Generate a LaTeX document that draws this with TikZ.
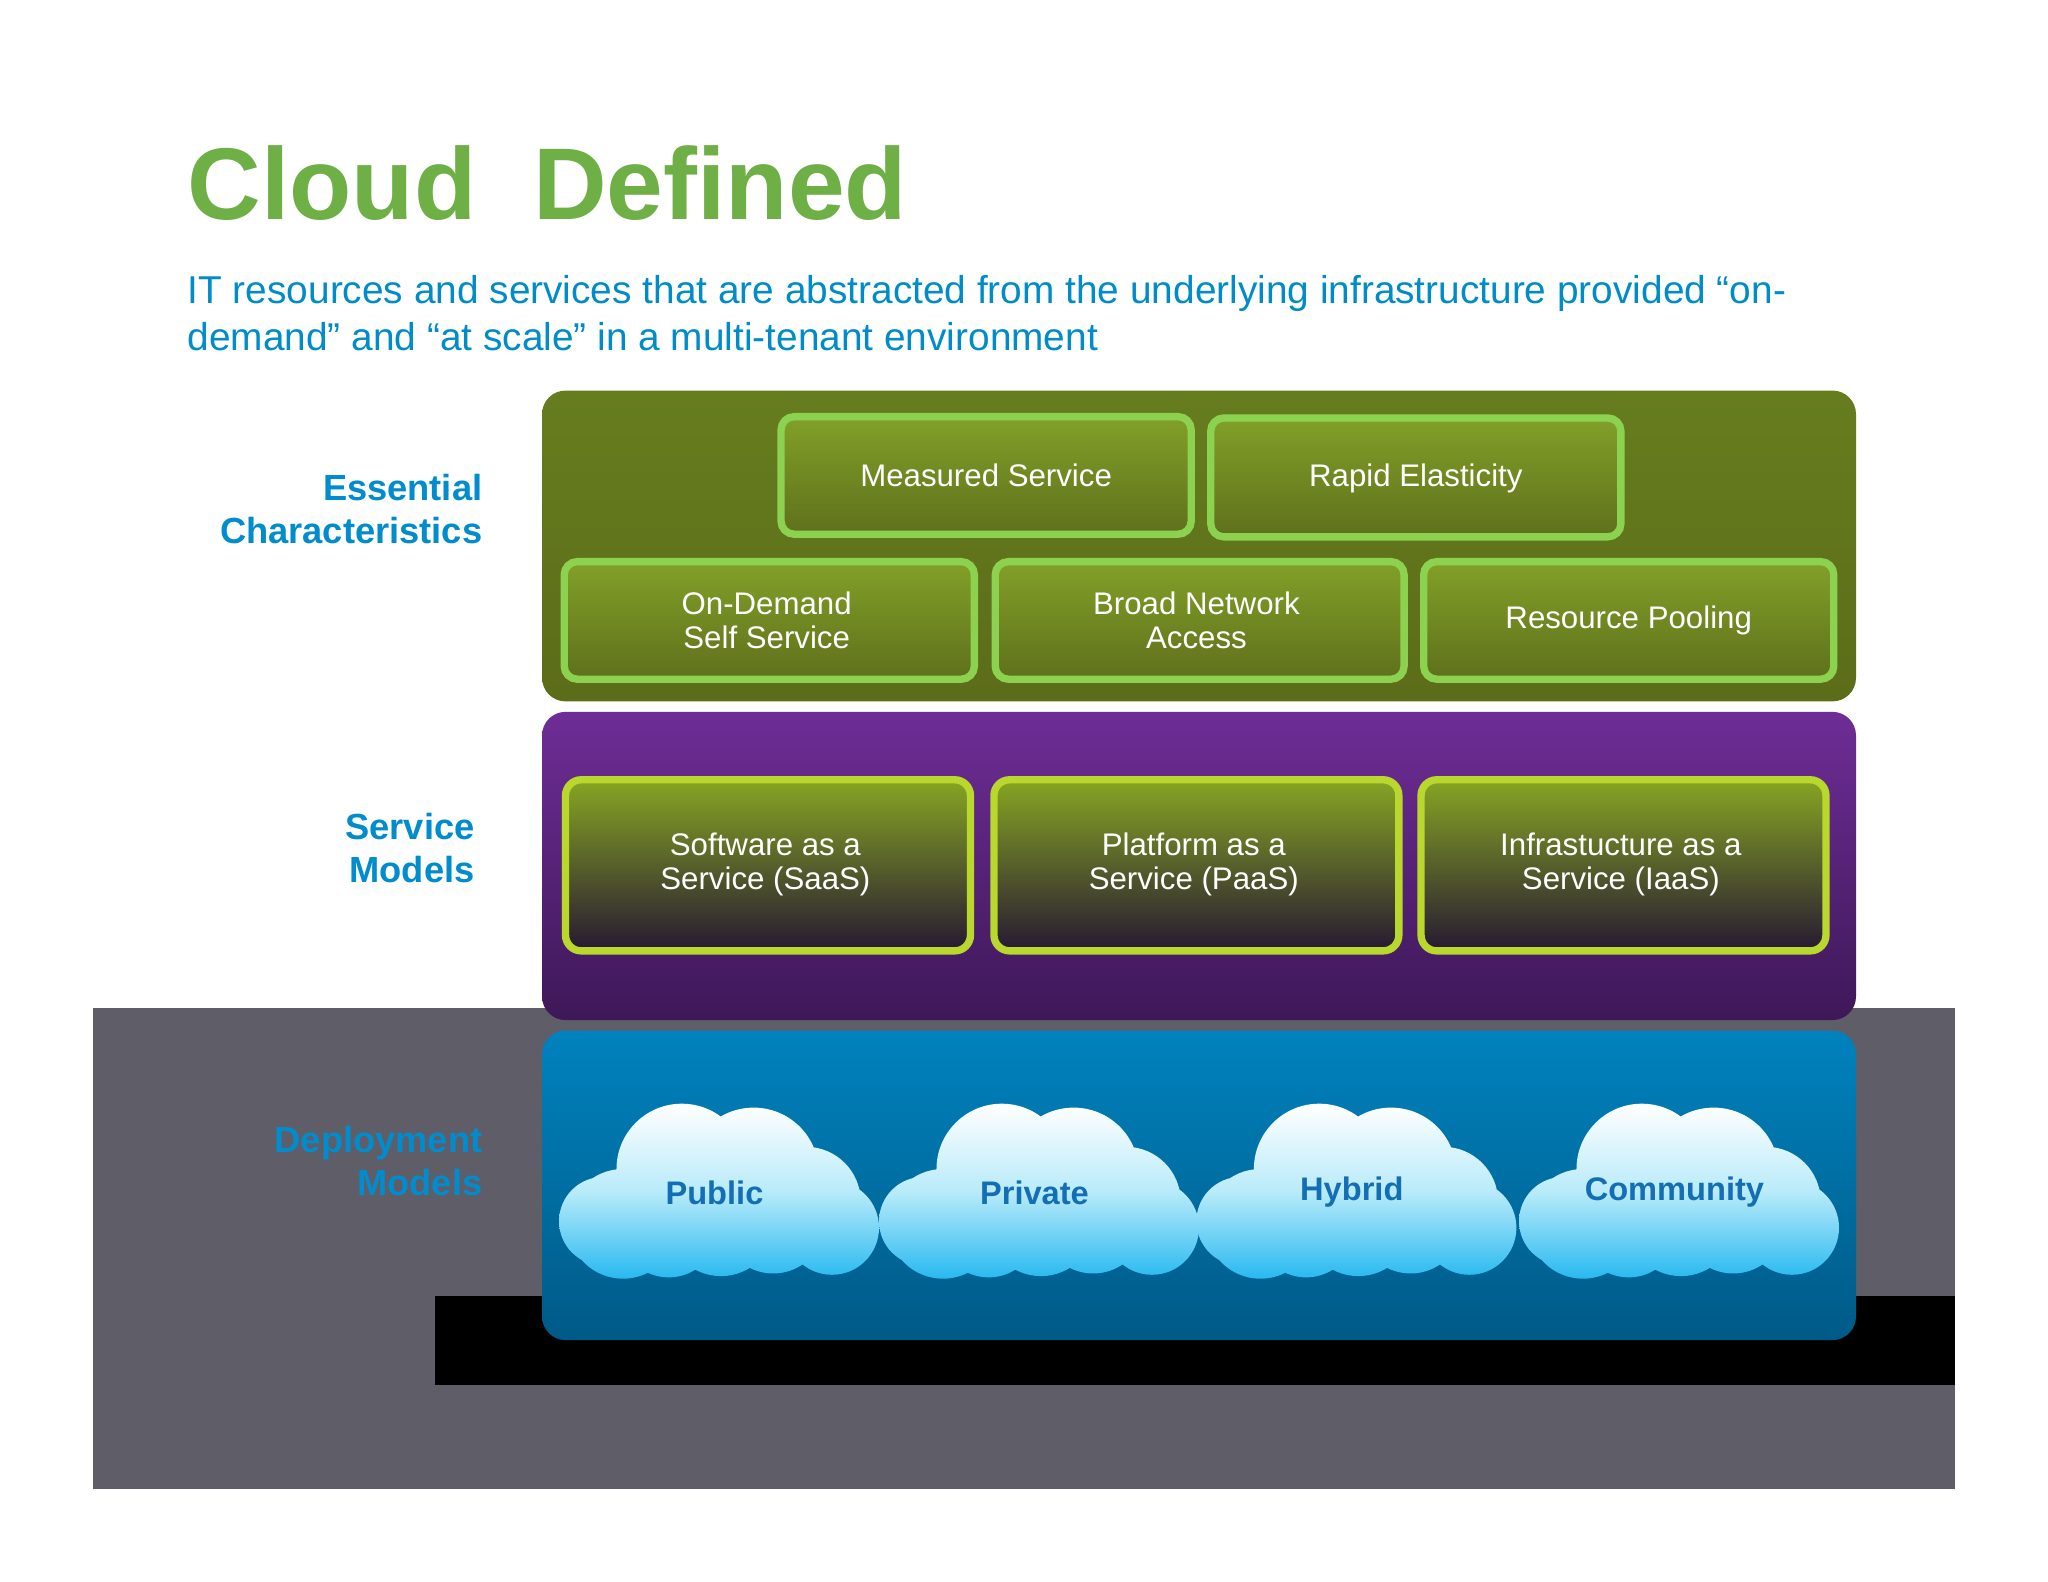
\documentclass[tikz,border=0pt]{standalone}
\usepackage{fontspec}
\setmainfont{Liberation Sans}
\definecolor{bggray}{RGB}{95,93,103}
\definecolor{titleg}{RGB}{110,175,70}
\definecolor{subb}{RGB}{0,140,200}
\definecolor{labb}{RGB}{0,140,205}
\definecolor{cloudt}{RGB}{20,110,180}
\definecolor{ecdraw}{RGB}{140,210,80}
\definecolor{ectop}{RGB}{130,160,40}
\definecolor{ecbot}{RGB}{95,112,28}
\definecolor{smdraw}{RGB}{185,215,45}
\definecolor{smtop}{RGB}{135,165,35}
\definecolor{smbot}{RGB}{38,25,50}
\definecolor{gpt}{RGB}{102,125,30}
\definecolor{gpb}{RGB}{92,108,25}
\definecolor{ppt}{RGB}{110,45,150}
\definecolor{ppb}{RGB}{62,24,88}
\definecolor{bpt}{RGB}{0,130,190}
\definecolor{bpb}{RGB}{0,90,135}
\definecolor{cbot}{RGB}{40,185,240}
\definecolor{cmid}{RGB}{185,235,250}
\begin{document}
\begin{tikzpicture}[x=0.01cm,y=-0.01cm,
 panel/.style={rounded corners=0.18cm},
 ecbox/.style={rounded corners=0.1cm, draw=ecdraw, line width=1.6pt, top color=ectop, bottom color=ecbot},
 smbox/.style={rounded corners=0.12cm, draw=smdraw, line width=1.6pt, top color=smtop, bottom color=smbot},
 btxt/.style={text=white, font=\fontsize{6.8pt}{7.4pt}\selectfont, align=center},
 lab/.style={text=labb, font=\bfseries\fontsize{7.9pt}{9.4pt}\selectfont, align=right, anchor=east, inner sep=0},
 ctxt/.style={text=cloudt, font=\bfseries\fontsize{7.1pt}{8pt}\selectfont}]
\useasboundingbox (0,0) rectangle (1568,1211);
\fill[white] (0,0) rectangle (1568,1211);
\fill[bggray] (71,772) rectangle (1497,1140);
\fill[black] (333,992) rectangle (1497,1060);
\node[anchor=base west, inner sep=0, text=titleg, font=\bfseries\fontsize{22.2pt}{26pt}\selectfont] (title) at (143,168) {Cloud\ \ Defined};
\node[anchor=north west, inner sep=0, text=subb, font=\fontsize{8.45pt}{10.2pt}\selectfont, align=left] (sub) at (143,210) {IT resources and services that are abstracted from the underlying infrastructure provided “on-\\demand” and “at scale” in a multi-tenant environment};
% panels
\shade[panel, top color=gpt, bottom color=gpb] (415,299) rectangle (1421,537);
\shade[panel, top color=ppt, bottom color=ppb] (415,545) rectangle (1421,781);
\shade[panel, top color=bpt, bottom color=bpb] (415,789) rectangle (1421,1026);
% EC boxes
\draw[ecbox] (598,319) rectangle (912,409); \node[btxt] (ms) at (755,364) {Measured Service};
\draw[ecbox] (927,320) rectangle (1241,411); \node[btxt] (re) at (1084,366) {Rapid Elasticity};
\draw[ecbox] (432,430) rectangle (746,520); \node[btxt] (od) at (587,475) {On-Demand\\ Self Service};
\draw[ecbox] (762,430) rectangle (1075,520); \node[btxt] (bn) at (916,475) {Broad Network\\ Access};
\draw[ecbox] (1090,430) rectangle (1404,520); \node[btxt] (rp) at (1247,475) {Resource Pooling};
% SM boxes
\draw[smbox] (433,597) rectangle (743,728); \node[btxt] (saas) at (586,662) {Software as a\\ Service (SaaS)};
\draw[smbox] (761,597) rectangle (1071,728); \node[btxt] (paas) at (914,662) {Platform as a\\ Service (PaaS)};
\draw[smbox] (1088,597) rectangle (1398,728); \node[btxt] (iaas) at (1241,662) {Infrastucture as a\\ Service (IaaS)};
% clouds
\foreach \cx/\nm/\tx in {552/c1/Public,797/c2/Private,1040/c3/Hybrid,1287/c4/Community}{
 \shade[top color=white, bottom color=cbot, middle color=cmid]
  (\cx-75,937) circle (42) (\cx-30,895) circle (50) (\cx+25,898) circle (50) (\cx+65,920) circle (42)
  (\cx+85,940) circle (36) (\cx-90,935) circle (34) (\cx,935) circle (42) (\cx+40,935) circle (40) (\cx-40,940) circle (38);
 \node[ctxt] (\nm) at (\cx-5,913) {\tx};
}
% left labels
\node[lab] (l1) at (370,390) {Essential\\Characteristics};
\node[lab] (l2) at (364,649) {Service\\Models};
\node[lab] (l3) at (370,889) {Deployment\\Models};
\end{tikzpicture}
\end{document}
